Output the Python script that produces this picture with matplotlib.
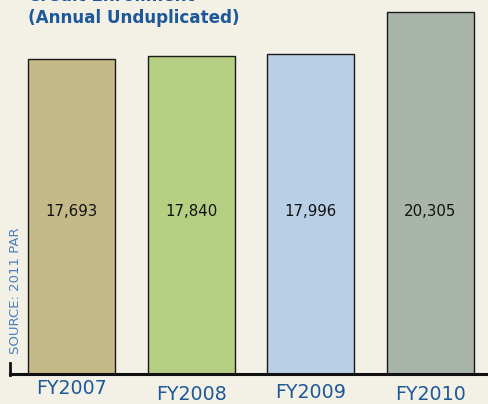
import matplotlib
matplotlib.use("Agg")
import matplotlib.pyplot as plt

# data
years = ["FY2007", "FY2008", "FY2009", "FY2010"]
enrollment = [17693, 17840, 17996, 20305]
value_labels = ["17,693", "17,840", "17,996", "20,305"]
bar_colors = ["#c4b987", "#b6d083", "#b9cfe6", "#a9b5a8"]

BG = "#f3f0e6"
BLUE = "#1d5899"
W, H = 488, 404

fig = plt.figure(figsize=(W / 100, H / 100), dpi=100, facecolor=BG)
# axes spans full width; bottom at baseline (y=374 px from top)
ax = fig.add_axes([0, (H - 374) / H, 1, 374 / H])
ax.set_facecolor(BG)
ax.set_xlim(-0.5975, 3.480)
ax.set_ylim(0, 374 / 315 * 17693)
ax.axis("off")

xs = range(len(years))
ax.bar(xs, enrollment, width=0.727, color=bar_colors, edgecolor="#1a1a1a",
       linewidth=1.0, zorder=2)

for x, lab in zip(xs, value_labels):
    ax.text(x, 17693 - 153 / 315 * 17693, lab, ha="center", va="center",
            fontsize=10.8, color="#111111", zorder=3)

# baseline + small left bracket
def px(x, y):
    return x / W, 1 - y / H

fig.add_artist(plt.Line2D([px(10, 0)[0], 1], [px(0, 374)[1]] * 2,
                          color="#111111", linewidth=2.2, zorder=1))
fig.add_artist(plt.Line2D([px(10, 0)[0]] * 2, [px(0, 363)[1], px(0, 375)[1]],
                          color="#111111", linewidth=2.0, zorder=1))

# tick labels (slightly staggered as in original)
label_y = [389, 395, 392, 394]
for x, lab, ly in zip(xs, years, label_y):
    xf = ax.transData.transform((x, 0))[0] / fig.bbox.width
    fig.text(xf, px(0, ly)[1], lab, ha="center", va="center",
             fontsize=13.7, color=BLUE)

# title (first line cut off at the top, as in the source)
fig.text(px(28, 0)[0], px(0, -4)[1], "Credit Enrollment", ha="left",
         va="center", fontsize=12.1, fontweight="bold", color=BLUE)
fig.text(px(28, 0)[0], px(0, 18)[1], "(Annual Unduplicated)", ha="left",
         va="center", fontsize=12.1, fontweight="bold", color=BLUE)

# source note
fig.text(px(16, 0)[0], px(0, 291)[1], "SOURCE: 2011 PAR", rotation=90,
         ha="center", va="center", fontsize=9.5, color="#4a80ba")

fig.savefig("out.png", dpi=100, facecolor=BG)
